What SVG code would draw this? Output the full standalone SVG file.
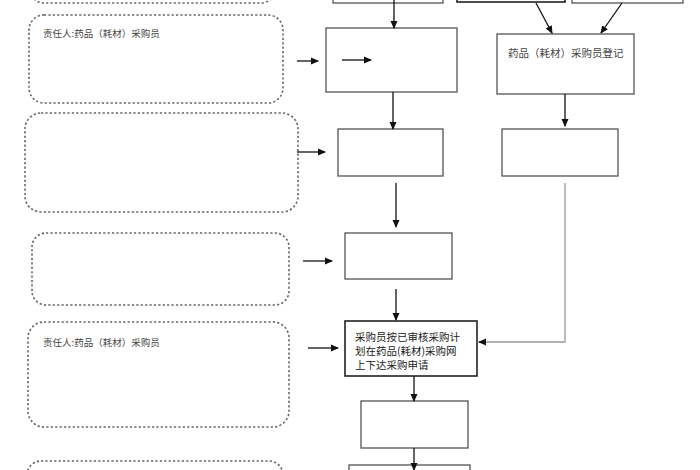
<svg xmlns="http://www.w3.org/2000/svg" width="700" height="470" viewBox="0 0 700 470">
<defs>
<marker id="ah" markerWidth="8" markerHeight="8" refX="7" refY="4" orient="auto" markerUnits="userSpaceOnUse">
<path d="M0,0.5 L8,4 L0,7.5 Z" fill="#111"/>
</marker>
<style>
.dash{fill:#fff;stroke:#666;stroke-width:1.6;stroke-dasharray:2.2 2.2}
.box{fill:#fff;stroke:#555;stroke-width:1.3}
.dark{fill:#fff;stroke:#222;stroke-width:1.6}
.con{fill:none;stroke:#111;stroke-width:1.3;marker-end:url(#ah)}
.gray{fill:none;stroke:#999;stroke-width:1.3}
.t{font-family:"Noto Sans CJK SC","Liberation Sans",sans-serif;font-size:9.5px;fill:#444}
.tr{font-family:"Noto Sans CJK SC","Liberation Sans",sans-serif;font-size:10.5px;fill:#444}
.t2{font-family:"Noto Sans CJK SC","Liberation Sans",sans-serif;font-size:10.5px;fill:#222}
</style>
</defs>
<rect width="700" height="470" fill="#fff"/>
<g id="lane0"><rect class="dash" x="30" y="-40" width="245" height="43" rx="14"/></g>
<g id="lane1"><rect class="dash" x="29" y="15" width="254" height="88" rx="15"/>
<text class="t" x="43" y="37">责任人:药品（耗材）采购员</text></g>
<g id="lane2"><rect class="dash" x="25" y="113" width="273" height="99" rx="16"/></g>
<g id="lane3"><rect class="dash" x="32" y="233" width="257" height="72" rx="14"/></g>
<g id="lane4"><rect class="dash" x="28" y="322" width="261" height="105" rx="16"/>
<text class="t" x="43" y="346">责任人:药品（耗材）采购员</text></g>
<g id="lane5"><rect class="dash" x="27" y="461" width="256" height="40" rx="14"/></g>
<g id="topA"><rect class="box" x="333" y="-20" width="110" height="23"/></g>
<g id="topB"><rect class="dark" x="457" y="-20" width="108" height="22"/></g>
<g id="topC"><rect class="box" x="572" y="-20" width="111" height="23"/></g>
<g id="p1"><rect class="box" x="326" y="28" width="131" height="64"/></g>
<g id="p2"><rect class="box" x="338" y="129" width="105" height="47"/></g>
<g id="p3"><rect class="box" x="345" y="233" width="107" height="46"/></g>
<g id="p4"><rect class="dark" x="345" y="321" width="132" height="55"/>
<text class="t2" x="355" y="341">采购员按已审核采购计</text>
<text class="t2" x="355" y="355">划在药品(耗材)采购网</text>
<text class="t2" x="355" y="369">上下达采购申请</text></g>
<g id="p5"><rect class="box" x="361" y="401" width="107" height="47"/></g>
<g id="p6"><rect class="box" x="349" y="465" width="121" height="30"/></g>
<g id="r1"><rect class="box" x="497" y="34" width="137" height="60"/>
<text class="tr" x="508" y="57">药品（耗材）采购员登记</text></g>
<g id="r2"><rect class="box" x="502" y="129" width="116" height="47"/></g>
<g id="connectors">
<line class="con" x1="394" y1="0" x2="394" y2="28"/>
<line class="con" x1="536" y1="3" x2="552" y2="33"/>
<line class="con" x1="622" y1="3" x2="601" y2="33"/>
<line class="con" x1="297" y1="61" x2="318" y2="61"/>
<line class="con" x1="342" y1="60" x2="371" y2="60"/>
<line class="con" x1="297" y1="152" x2="325" y2="152"/>
<line class="con" x1="393" y1="92" x2="393" y2="129"/>
<line class="con" x1="565" y1="94" x2="565" y2="126"/>
<line class="con" x1="396" y1="183" x2="396" y2="227"/>
<line class="con" x1="303" y1="261" x2="332" y2="261"/>
<line class="con" x1="396" y1="289" x2="396" y2="320"/>
<line class="con" x1="308" y1="348" x2="338" y2="348"/>
<polyline class="gray" points="565,183 565,342 485,342"/>
<line class="con" x1="486" y1="342" x2="479" y2="342"/>
<line class="con" x1="414" y1="376" x2="414" y2="401"/>
<line class="con" x1="414" y1="448" x2="414" y2="470"/>
</g>
</svg>
